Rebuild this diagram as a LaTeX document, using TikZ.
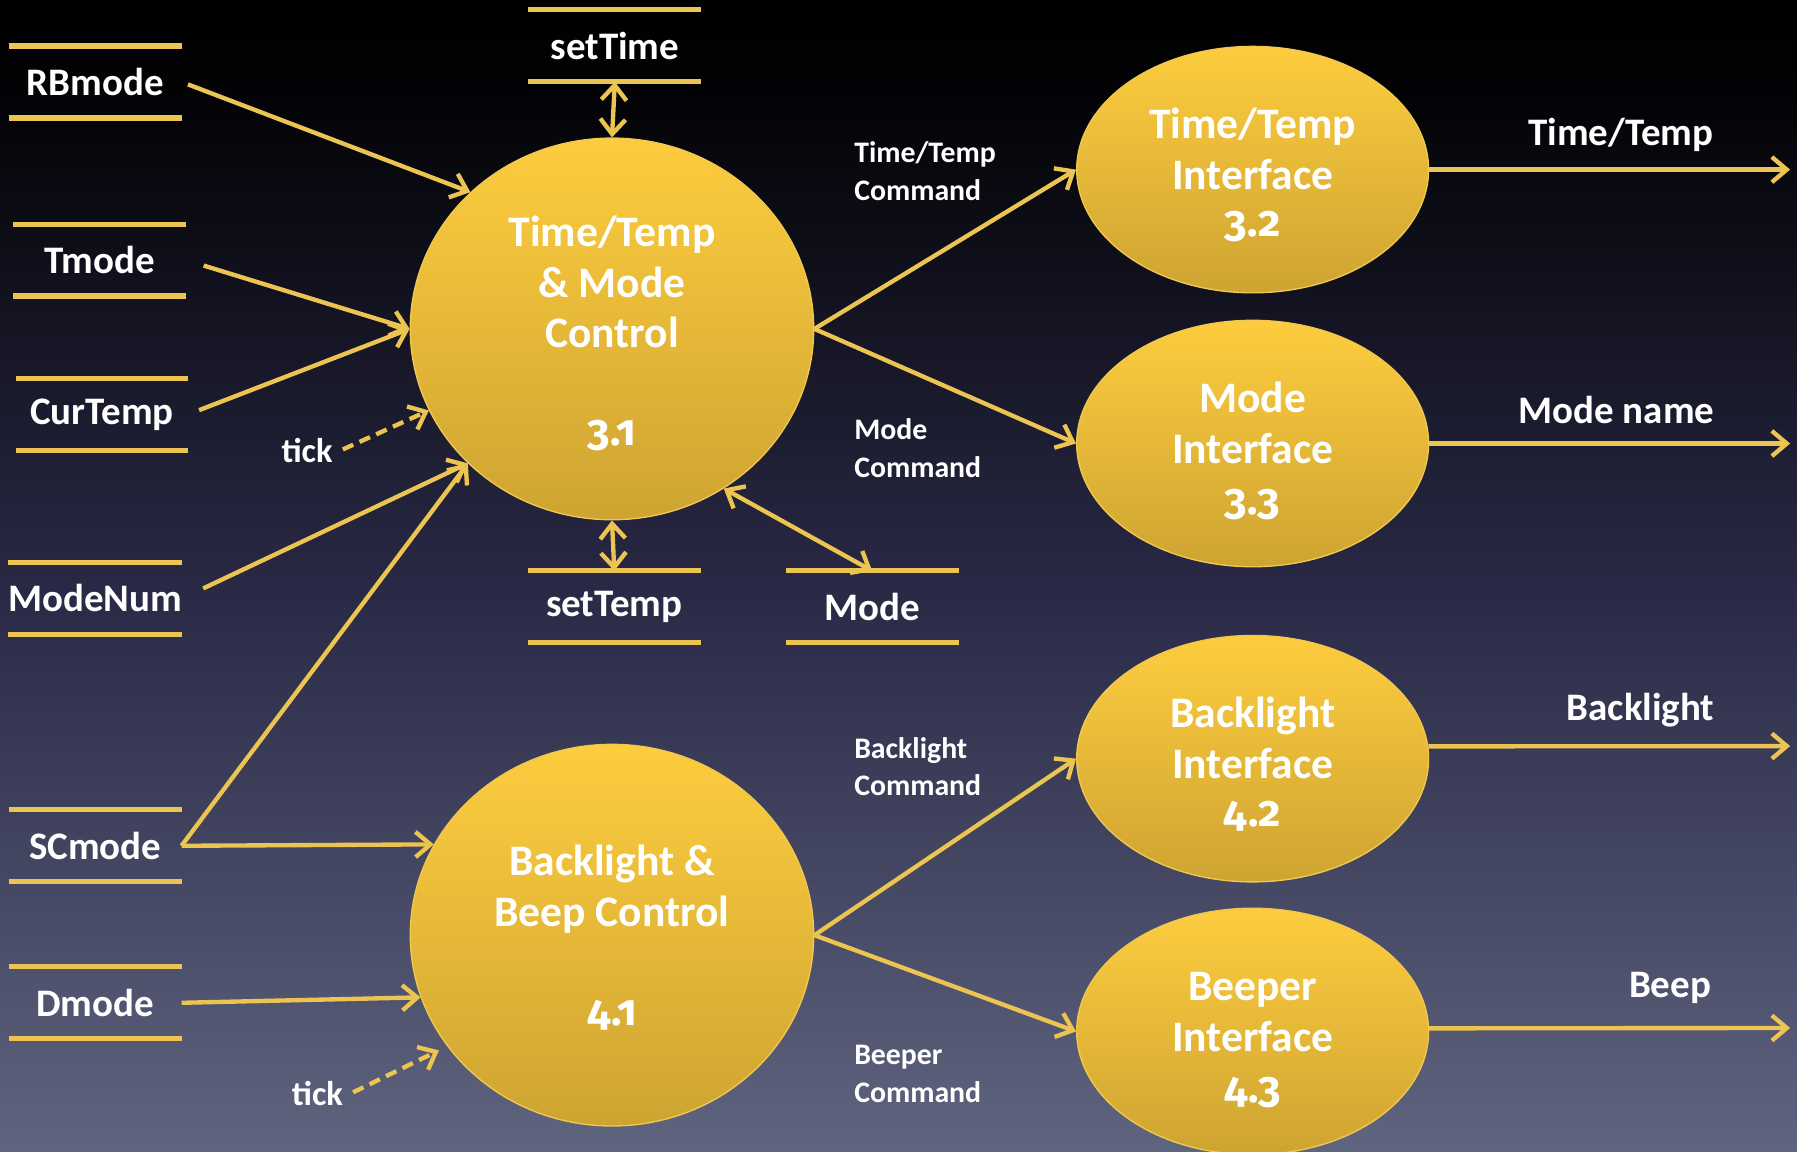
\documentclass[tikz,border=0pt]{standalone}
\usepackage{fontspec}
\setmainfont{Carlito}
\newfontfamily\numfont{Fira Sans}[Numbers=OldStyle]
\usetikzlibrary{arrows.meta,shapes.geometric}
\definecolor{gold}{RGB}{236,196,82}
\definecolor{bgbot}{RGB}{95,100,127}
\definecolor{bgmid}{RGB}{40,40,68}
\definecolor{bgtop}{RGB}{4,4,8}
\definecolor{ytop}{RGB}{253,204,62}
\definecolor{ybot}{RGB}{206,164,50}
\definecolor{yline}{RGB}{240,200,80}
\pgfdeclareverticalshading{bgshade}{100bp}{color(0bp)=(bgbot); color(25bp)=(bgbot); color(50bp)=(bgmid); color(70bp)=(bgtop); color(75bp)=(black); color(100bp)=(black)}
\tikzset{
  proc/.style={ellipse, inner sep=0pt, top color=ytop, bottom color=ybot, draw=yline, line width=0.6pt},
  bigproc/.style={proc, minimum width=176pt, minimum height=166.5pt},
  smallproc/.style={proc, minimum width=153.5pt, minimum height=107.5pt},
  ctext/.style={text=white, font=\fontsize{19}{22}\selectfont\bfseries, align=center},
  ntext/.style={text=white, font=\numfont\fontsize{19}{22}\selectfont\bfseries},
  store/.style={minimum width=75pt, minimum height=31pt, inner sep=0pt, text=white, font=\fontsize{17}{20}\selectfont\bfseries},
  storeline/.style={draw=gold, line width=2.3pt},
  lab/.style={text=white, font=\fontsize{17}{20}\selectfont\bfseries},
  cmd/.style={text=white, font=\fontsize{13}{16.5}\selectfont\bfseries, align=left, anchor=west, inner sep=0pt},
  conn/.style={draw=gold, line width=1.9pt},
  arr/.style={conn, -{Straight Barb[length=6.5pt,width=11pt]}},
  darr/.style={conn, {Straight Barb[length=6.5pt,width=11pt]}-{Straight Barb[length=6.5pt,width=11pt]}},
  darrow/.style={arr, dash pattern=on 5pt off 3pt},
}
\begin{document}
\begin{tikzpicture}[x=0.5pt,y=-0.5pt]
\useasboundingbox (0,0) rectangle (1568,1005);
\shade[shading=bgshade] (0,0) rectangle (1568,1005);

% processes
\node[bigproc] (p31) at (534,287) {};
\node[bigproc] (p41) at (534,816) {};
\node[smallproc] (p32) at (1093,148) {};
\node[smallproc] (p33) at (1093,387) {};
\node[smallproc] (p42) at (1093,662) {};
\node[smallproc] (p43) at (1093,900) {};

\node[ctext] (t31) at (534,246) {Time/Temp\\\& Mode\\Control};
\node[ntext] (n31) at (534,380) {3.1};
\node[ctext] (t41) at (534,776) {Backlight \&\\Beep Control};
\node[ntext] (n41) at (534,886) {4.1};
\node[ctext] (t32) at (1093,130) {Time/Temp\\Interface};
\node[ntext] (n32) at (1093,198) {3.2};
\node[ctext] (t33) at (1093,369) {Mode\\Interface};
\node[ntext] (n33) at (1093,440) {3.3};
\node[ctext] (t42) at (1093,644) {Backlight\\Interface};
\node[ntext] (n42) at (1093,712) {4.2};
\node[ctext] (t43) at (1093,883) {Beeper\\Interface};
\node[ntext] (n43) at (1093,953) {4.3};

% stores
\foreach \n/\t/\x/\y in {rb/RBmode/83/71.5, tm/Tmode/87/227, ct/CurTemp/89/361.5, mn/ModeNum/83/522, sc/SCmode/83/738, dm/Dmode/83/875, st/setTime/536.5/40, sp/setTemp/536/529.5, md/Mode/761/529.5}{
  \node[store] (\n) at (\x,\y) {\t};
  \draw[storeline] (\n.north west) -- (\n.north east);
  \draw[storeline] (\n.south west) -- (\n.south east);
}

% ticks
\node[lab, font=\fontsize{15}{18}\selectfont\bfseries] (tk1) at (268,393) {tick};
\node[lab, font=\fontsize{15}{18}\selectfont\bfseries] (tk2) at (277,954) {tick};

% inputs to 3.1
\draw[arr, shorten <=3pt] (rb.east) -- (p31.136);
\draw[arr, shorten <=8pt] (tm.east) -- (p31.west);
\draw[arr, shorten <=5pt] (ct.east) -- (p31.west);
\draw[darrow, shorten <=1pt] (tk1.east) -- (p31.204);
\draw[arr, shorten <=10pt] (mn.east) -- (p31.223);
\draw[arr] (sc.east) -- (p31.223);
\draw[darr] (st.south) -- (p31.north);
\draw[darr] (sp.north) -- (p31.south);
\draw[darr] (md.north) -- (p31.305);

% inputs to 4.1
\draw[arr] (sc.east) -- (p41.153);
\draw[arr] (dm.east) -- (p41.198);
\draw[darrow, shorten <=1pt, shorten >=4pt] (tk2.east) -- (p41.214);

% internal flows
\draw[arr] (p31.east) -- (p32.west);
\draw[arr] (p31.east) -- (p33.west);
\draw[arr] (p41.east) -- (p42.west);
\draw[arr] (p41.east) -- (p43.west);
\node[cmd] (c32) at (745,149) {Time/Temp\\Command};
\node[cmd] (c33) at (745,391) {Mode\\Command};
\node[cmd] (c42) at (745,669) {Backlight\\Command};
\node[cmd] (c43) at (745,937) {Beeper\\Command};

% outputs
\coordinate (o32) at (1562,148);
\coordinate (o33) at (1562,387);
\coordinate (o42) at (1562,651);
\coordinate (o43) at (1562,897);
\draw[arr] (p32.east) -- (o32);
\draw[arr] (p33.east) -- (o33);
\draw[arr] (p42.4) -- (o42);
\draw[arr] (p43.1) -- (o43);
\node[lab, anchor=east] (l32) at (1502,118) {Time/Temp};
\node[lab, anchor=east] (l33) at (1503,358) {Mode name};
\node[lab, anchor=east] (l42) at (1503,620) {Backlight};
\node[lab, anchor=east] (l43) at (1500,862) {Beep};
\end{tikzpicture}
\end{document}
